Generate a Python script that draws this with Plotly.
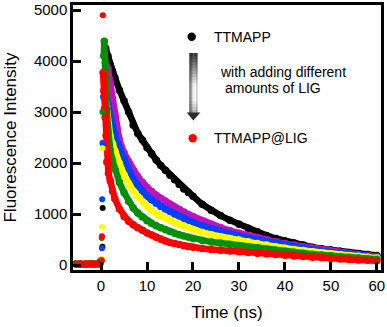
import plotly.graph_objects as go

# ---------------- data ----------------
X_TICKS = [0, 10, 20, 30, 40, 50, 60]
Y_TICKS = [0, 1000, 2000, 3000, 4000, 5000]

# pre-excitation baseline (shared by all decays)
T_BASE = [-5.5, -5.0, -4.5, -4.0, -3.5, -3.0, -2.5, -2.0, -1.5, -1.0, -0.5, -0.2, 0.0]
V_BASE = [20, 15, 25, 10, 20, 15, 25, 20, 15, 25, 20, 40, 90]

# common tail time grid (ns)
T_TAIL = [2, 2.5, 3, 4, 5, 6, 7, 8, 9, 10, 11, 12, 13, 14, 15, 16, 17, 18, 19, 20,
          22, 24, 26, 28, 30, 32, 34, 36, 38, 40, 42, 44, 46, 48, 50, 52, 54, 56, 58, 60]

# TTMAPP (black)
BLACK_HEAD_T = [0.8, 1.0, 1.5]
BLACK_HEAD_V = [4200, 4250, 4100]
BLACK_TAIL = [3920, 3800, 3680, 3430, 3220, 3000, 2740, 2580, 2450, 2300,
              2180, 2060, 1950, 1860, 1760, 1670, 1580, 1490, 1420, 1350,
              1190, 1070, 970, 880, 800, 720, 650, 580, 520, 470,
              430, 390, 350, 320, 295, 270, 245, 225, 205, 185]
BLACK_RISE_T = [0.0, 0.3, 0.35]
BLACK_RISE_V = [90, 360, 1120]

# magenta
MAG_HEAD_T = [0.6, 1.0, 1.5]
MAG_HEAD_V = [3700, 3950, 3850]
MAG_TAIL = [3550, 3250, 2950, 2450, 2200, 2020, 1860, 1730, 1620, 1520,
            1440, 1370, 1310, 1250, 1190, 1140, 1090, 1040, 990, 950,
            870, 800, 735, 675, 625, 575, 535, 495, 455, 420,
            390, 355, 325, 295, 270, 245, 225, 205, 185, 165]
MAG_RISE_T = [0.35]
MAG_RISE_V = [2400]

# blue
BLUE_HEAD_T = [0.6, 1.0, 1.5]
BLUE_HEAD_V = [3300, 3400, 3150]
BLUE_TAIL = [2900, 2700, 2550, 2290, 2080, 1860, 1690, 1560, 1450, 1350,
             1280, 1210, 1150, 1100, 1050, 1000, 960, 915, 875, 835,
             765, 710, 660, 615, 570, 530, 495, 455, 420, 390,
             360, 330, 300, 275, 250, 230, 210, 190, 170, 155]
BLUE_RISE_T = [0.2, 0.25, 0.35]
BLUE_RISE_V = [330, 1290, 2380]

# yellow
YEL_HEAD_T = [0.5, 0.8, 1.2, 1.6]
YEL_HEAD_V = [3640, 3400, 3100, 2750]
YEL_TAIL = [2520, 2380, 2230, 1990, 1770, 1590, 1450, 1340, 1240, 1150,
            1070, 1010, 960, 920, 880, 840, 800, 765, 730, 695,
            640, 595, 555, 520, 490, 455, 420, 390, 355, 330,
            305, 285, 260, 240, 220, 200, 185, 170, 150, 135]
YEL_RISE_T = [0.1, 0.2, 0.3]
YEL_RISE_V = [130, 750, 2290]

# green
GRN_HEAD_T = [0.6, 0.7, 0.9, 1.2, 1.6]
GRN_HEAD_V = [4100, 4390, 3970, 3050, 2500]
GRN_TAIL = [2250, 2050, 1880, 1620, 1420, 1250, 1120, 1020, 940, 870,
            820, 770, 730, 690, 655, 625, 595, 570, 545, 520,
            480, 450, 430, 405, 385, 360, 340, 315, 290, 270,
            250, 230, 210, 195, 180, 165, 150, 135, 125, 115]
GRN_RISE_T = [0.15, 0.3]
GRN_RISE_V = [530, 3000]

# TTMAPP@LIG (red)
RED_HEAD_T = [0.45, 0.6, 0.75, 0.9, 1.1, 1.25, 1.6]
RED_HEAD_V = [3770, 3420, 3060, 2900, 2540, 2020, 1800]
RED_TAIL = [1650, 1450, 1300, 1100, 950, 860, 790, 730, 680, 630,
            590, 545, 505, 470, 440, 420, 400, 380, 365, 350,
            325, 305, 290, 275, 260, 245, 230, 215, 205, 190,
            175, 165, 150, 140, 130, 120, 110, 100, 95, 85]
RED_RISE_T = [0.1, 0.2, 0.4]
RED_RISE_V = [100, 565, 4900]

SERIES = [
    ("#000000", BLACK_HEAD_T, BLACK_HEAD_V, BLACK_TAIL, BLACK_RISE_T, BLACK_RISE_V),
    ("#c010c0", MAG_HEAD_T, MAG_HEAD_V, MAG_TAIL, MAG_RISE_T, MAG_RISE_V),
    ("#0040ff", BLUE_HEAD_T, BLUE_HEAD_V, BLUE_TAIL, BLUE_RISE_T, BLUE_RISE_V),
    ("#ffff00", YEL_HEAD_T, YEL_HEAD_V, YEL_TAIL, YEL_RISE_T, YEL_RISE_V),
    ("#009000", GRN_HEAD_T, GRN_HEAD_V, GRN_TAIL, GRN_RISE_T, GRN_RISE_V),
    ("#ff0000", RED_HEAD_T, RED_HEAD_V, RED_TAIL, RED_RISE_T, RED_RISE_V),
]

# ---------------- figure ----------------
W, H = 387, 327
ML, MR, MT, MB = 73, 6, 5, 57
PW, PH = W - ML - MR, H - MT - MB


def px(x):
    return (x - ML) / PW


def py(y):
    return (H - MB - y) / PH


fig = go.Figure()

for color, ht, hv, tail, rt, rv in SERIES:
    fig.add_trace(go.Scatter(x=T_BASE, y=V_BASE, mode="lines+markers",
                             line=dict(color=color, width=6),
                             marker=dict(color=color, size=7),
                             showlegend=False, hoverinfo="skip"))
    fig.add_trace(go.Scatter(x=ht + T_TAIL, y=hv + tail, mode="lines+markers",
                             line=dict(color=color, width=6.5),
                             marker=dict(color=color, size=7.5),
                             showlegend=False))

for color, ht, hv, tail, rt, rv in SERIES:
    fig.add_trace(go.Scatter(x=rt, y=rv, mode="markers",
                             marker=dict(color=color, size=6),
                             showlegend=False))

shapes = []
# legend dots
for cx, cy, col in [(191.7, 36.7, "#000000"), (192.7, 138.3, "#ff0000")]:
    r = 4.2
    shapes.append(dict(type="circle", xref="paper", yref="paper",
                       x0=px(cx - r), x1=px(cx + r), y0=py(cy + r), y1=py(cy - r),
                       fillcolor=col, line=dict(width=0)))

# gradient arrow shaft (metallic look: dark top, light lower part, dark left rim)
x_left, x_right = 189.3, 197.3
y_top, y_bot = 53.0, 113.0
nx, ny = 6, 20
profile = [0.35, 0.6, 0.85, 0.95, 1.0, 0.8]
for j in range(ny):
    ya = y_top + (y_bot - y_top) * j / ny
    yb = y_top + (y_bot - y_top) * (j + 1) / ny
    f = j / (ny - 1)
    vert = 0.1 + 0.9 * min(1.0, f / 0.55)
    if f > 0.8:
        vert *= 1.0 - 1.5 * (f - 0.8)
    for i in range(nx):
        xa = x_left + (x_right - x_left) * i / nx
        xb = x_left + (x_right - x_left) * (i + 1) / nx
        g = int(35 + 215 * profile[i] * vert)
        g = max(0, min(255, g))
        shapes.append(dict(type="rect", xref="paper", yref="paper",
                           x0=px(xa), x1=px(xb + 0.3), y0=py(yb + 0.3), y1=py(ya),
                           fillcolor=f"rgb({g},{g},{g})", line=dict(width=0)))
# arrow head
hx = [186.8, 200.3, 193.3]
hy = [112.5, 112.5, 120.5]
path = "M {} {} L {} {} L {} {} Z".format(px(hx[0]), py(hy[0]), px(hx[1]), py(hy[1]), px(hx[2]), py(hy[2]))
shapes.append(dict(type="path", xref="paper", yref="paper", path=path,
                   fillcolor="#2a2a2a", line=dict(width=0)))

FONT = "Arial, Liberation Sans, sans-serif"
annotations = [
    dict(text="TTMAPP", x=px(212), y=py(36.7)),
    dict(text="with adding different", x=px(217.5), y=py(71.7)),
    dict(text="amounts of LIG", x=px(222.5), y=py(88.3)),
    dict(text="TTMAPP@LIG", x=px(212), y=py(138.3)),
]
for a in annotations:
    a.update(xref="paper", yref="paper", xanchor="left", yanchor="middle",
             showarrow=False, font=dict(size=14, color="black", family=FONT))

fig.update_layout(
    width=W, height=H,
    margin=dict(l=ML, r=MR, t=MT, b=MB, pad=0),
    paper_bgcolor="white", plot_bgcolor="white",
    font=dict(family=FONT, color="black"),
    shapes=shapes, annotations=annotations,
    showlegend=False,
)

axis_common = dict(ticks="inside", ticklen=8, tickwidth=2.5, tickcolor="black",
                   showline=True, linewidth=2.5, linecolor="black", mirror=True,
                   showgrid=False, zeroline=False, tickfont=dict(size=15, family=FONT),
                   automargin=False)

fig.update_xaxes(range=[-6.1, 60.9], tickvals=X_TICKS, ticktext=[str(v) for v in X_TICKS],
                 title=dict(text="Time (ns)", font=dict(size=17, family=FONT), standoff=14),
                 **axis_common)
fig.update_yaxes(range=[-98, 5100], tickvals=Y_TICKS, ticktext=[str(v) for v in Y_TICKS],
                 title=dict(text="Fluorescence Intensity", font=dict(size=17, family=FONT), standoff=13),
                 **axis_common)

fig.write_html("out.html", config={"displayModeBar": False},
               post_script="document.body.style.margin='0';document.body.style.overflow='hidden';")
